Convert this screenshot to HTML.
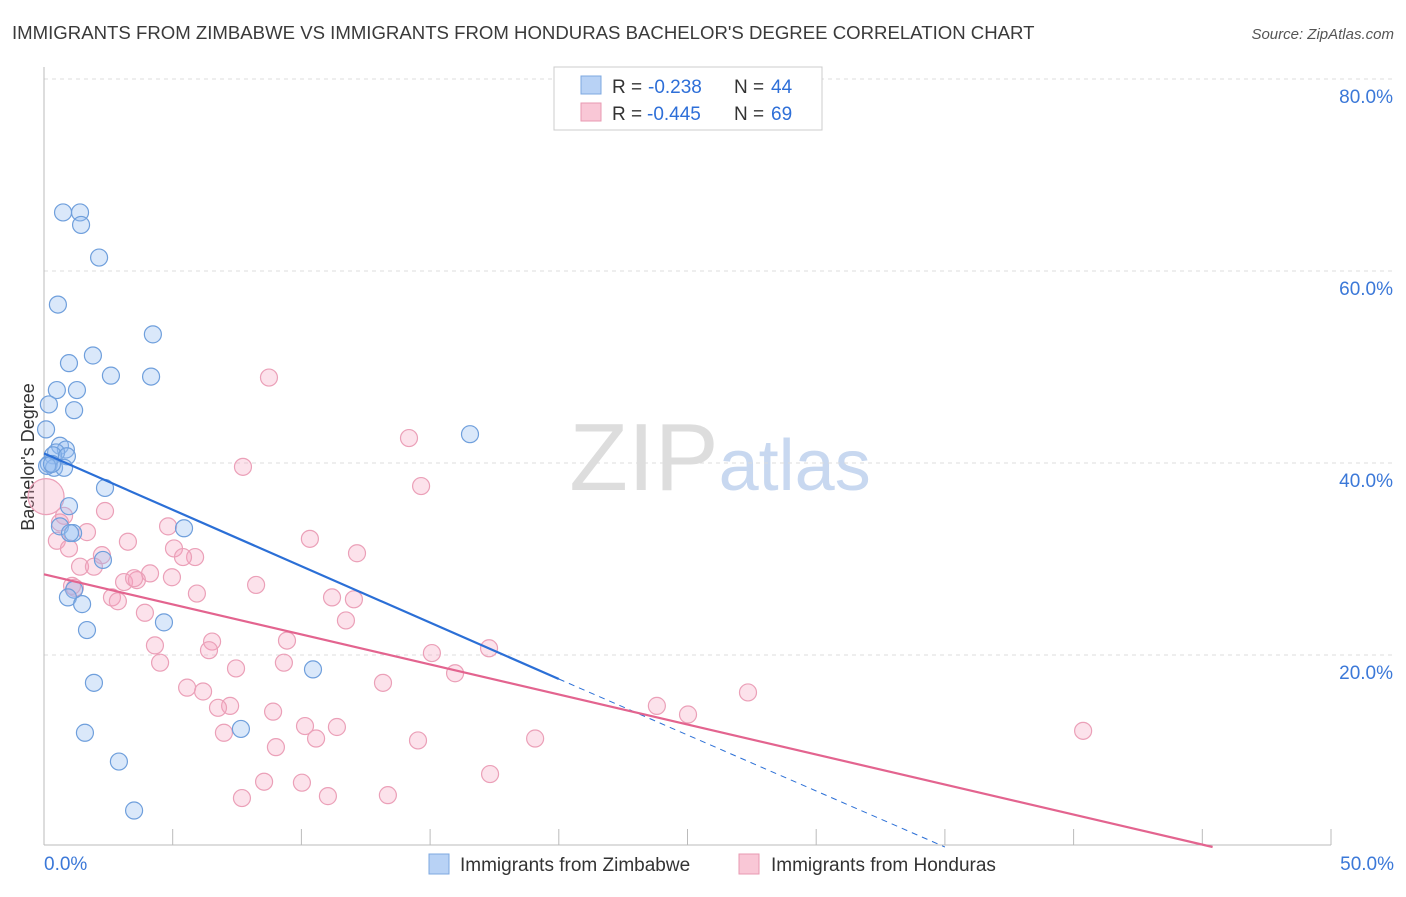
<!DOCTYPE html>
<html><head><meta charset="utf-8"><style>
body{margin:0;background:#fff;font-family:"Liberation Sans",sans-serif;}
svg text{font-family:"Liberation Sans",sans-serif;}
</style></head><body>
<svg id="chart" width="1406" height="892" xmlns="http://www.w3.org/2000/svg">
<text x="12" y="39" font-size="18.6" fill="#3a3a3a">IMMIGRANTS FROM ZIMBABWE VS IMMIGRANTS FROM HONDURAS BACHELOR'S DEGREE CORRELATION CHART</text>
<text x="1394" y="39" font-size="15" fill="#555" font-style="italic" text-anchor="end">Source: ZipAtlas.com</text>
<text transform="translate(34,457) rotate(-90)" font-size="18" fill="#333" text-anchor="middle">Bachelor's Degree</text>
<text x="720" y="490" font-size="96" fill="#ddd" text-anchor="middle" font-family="Liberation Serif">ZIP<tspan fill="#c8d8f0" font-family="Liberation Sans" font-size="72">atlas</tspan></text>
<g id="grid"></g><g id="axes"></g><g id="pts"></g><g id="lines"></g>
<g>
<rect x="554" y="67" width="268" height="63" fill="#fff" stroke="#ccc"/>
<rect x="581" y="76" width="20" height="18" fill="#b8d2f5" stroke="#7ea8e0"/>
<rect x="581" y="103" width="20" height="18" fill="#f9c7d6" stroke="#e89ab2"/>
<text x="612" y="93" font-size="19" fill="#333">R =</text>
<text x="648" y="93" font-size="19" fill="#2e6fd8">-0.238</text>
<text x="734" y="93" font-size="19" fill="#333">N =</text>
<text x="771" y="93" font-size="19" fill="#2e6fd8">44</text>
<text x="612" y="120" font-size="19" fill="#333">R =</text>
<text x="647" y="120" font-size="19" fill="#2e6fd8">-0.445</text>
<text x="734" y="120" font-size="19" fill="#333">N =</text>
<text x="771" y="120" font-size="19" fill="#2e6fd8">69</text>
</g>
<g>
<rect x="429" y="854" width="20" height="20" fill="#b8d2f5" stroke="#7ea8e0"/>
<text x="460" y="871" font-size="19" fill="#333">Immigrants from Zimbabwe</text>
<rect x="739" y="854" width="20" height="20" fill="#f9c7d6" stroke="#e89ab2"/>
<text x="771" y="871" font-size="19" fill="#333">Immigrants from Honduras</text>
</g>
</svg>
<script>
const xTicks=[0,5,10,15,20,25,30,35,40,45,50];
const yTicks=[20,40,60,80];
const blueX=[0.74,1.4,1.44,2.14,0.54,4.23,1.9,0.97,2.6,4.16,0.5,1.28,0.19,1.17,0.08,0.62,0.85,0.47,0.35,0.89,0.19,0.39,0.78,16.55,2.37,0.97,0.62,1.13,1.01,5.44,2.29,1.17,0.93,1.48,4.66,1.67,10.45,1.94,7.65,1.59,2.91,3.5,0.12,0.31];
const blueY=[66.1,66.1,64.8,61.4,56.5,53.4,51.2,50.4,49.1,49.0,47.6,47.6,46.1,45.5,43.5,41.8,41.4,41.1,40.8,40.7,39.9,39.5,39.5,43,37.4,35.5,33.4,32.7,32.7,33.2,29.9,26.8,26,25.3,23.4,22.6,18.5,17.1,12.3,11.9,8.9,3.8,39.7,39.9];
const pinkX=[8.74,14.18,7.73,14.65,0.08,2.37,0.78,4.82,1.67,10.33,0.5,3.26,0.97,5.05,2.25,12.16,5.87,5.4,1.4,1.94,4.12,4.97,3.11,3.61,3.5,8.24,1.2,5.94,11.19,12.04,2.64,2.87,3.92,11.73,6.53,4.31,6.41,9.44,15.07,17.29,4.51,9.32,7.46,15.97,13.17,5.56,6.18,7.23,6.76,23.81,27.35,25.02,8.9,10.14,11.38,6.99,10.57,19.08,9.01,14.53,40.37,17.33,8.55,10.02,7.69,11.03,13.36,1.09,0.62];
const pinkY=[48.9,42.6,39.6,37.6,36.5,35,34.5,33.4,32.8,32.1,31.9,31.8,31.1,31.1,30.4,30.6,30.2,30.2,29.2,29.2,28.5,28.1,27.6,27.8,28,27.3,27,26.4,26,25.8,26,25.6,24.4,23.6,21.4,21,20.5,21.5,20.2,20.7,19.2,19.2,18.6,18.1,17.1,16.6,16.2,14.7,14.5,14.7,16.1,13.8,14.1,12.6,12.5,11.9,11.3,11.3,10.4,11.1,12.1,7.6,6.8,6.7,5.1,5.3,5.4,27.2,33.8];
const blueLine=[[0,41],[20,17.5],[35,0]];
const pinkLine=[[0,28.4],[45.4,0]];
const X=v=>44+v*25.74, Y=v=>847-v*9.6;
const NS="http://www.w3.org/2000/svg";
function mk(tag,attrs,parent){const e=document.createElementNS(NS,tag);for(const k in attrs)e.setAttribute(k,attrs[k]);document.getElementById(parent).appendChild(e);return e;}
yTicks.forEach(t=>{
 const l=mk('line',{x1:44,x2:1394,y1:Y(t),y2:Y(t),stroke:'#ddd','stroke-dasharray':'4,4'},'grid');
 
 
 const tx=mk('text',{x:1393,y:Y(t)+24,'font-size':19,fill:'#3b78d8','text-anchor':'end'},'grid');
 tx.textContent=t.toFixed(1)+'%';
 
 
});
const topGrid=mk('line',{x1:44,x2:1394,y1:79,y2:79,stroke:'#ddd','stroke-dasharray':'4,4'},'grid');


const ya=mk('line',{x1:44,x2:44,y1:67,y2:845,stroke:'#bbb'},'axes');


const xa=mk('line',{x1:44,x2:1331,y1:845,y2:845,stroke:'#bbb'},'axes');


xTicks.forEach(t=>{
 const l=mk('line',{x1:X(t),x2:X(t),y1:829,y2:845,stroke:'#bbb'},'axes');
 
 
});
[[0,'0.0%','start',44],[50,'50.0%','end',1394]].forEach(a=>{
 const tx=mk('text',{x:a[3],y:870,'font-size':19,fill:'#3b78d8','text-anchor':a[2]},'axes');
 tx.textContent=a[1];
 
 
});
pinkX.forEach((x,i)=>{
 const c=mk('circle',{cx:X(x),cy:Y(pinkY[i]),r:i==4?18:8.5,fill:'rgba(244,160,188,0.3)',stroke:'#eba0b8','stroke-width':1.2},'pts');
 
 
});
blueX.forEach((x,i)=>{
 const c=mk('circle',{cx:X(x),cy:Y(blueY[i]),r:8.5,fill:'rgba(150,190,240,0.35)',stroke:'#6f9fdc','stroke-width':1.2},'pts');
 
 
});
const b1=mk('line',{x1:X(blueLine[0][0]),y1:Y(blueLine[0][1]),x2:X(blueLine[1][0]),y2:Y(blueLine[1][1]),stroke:'#2b6fd6','stroke-width':2.2},'lines');


const b2=mk('line',{x1:X(blueLine[1][0]),y1:Y(blueLine[1][1]),x2:X(blueLine[2][0]),y2:Y(blueLine[2][1]),stroke:'#2b6fd6','stroke-width':1,'stroke-dasharray':'6,5'},'lines');


const p1=mk('line',{x1:X(pinkLine[0][0]),y1:Y(pinkLine[0][1]),x2:X(pinkLine[1][0]),y2:Y(pinkLine[1][1]),stroke:'#e3648f','stroke-width':2.2},'lines');


</script>
</body></html>
